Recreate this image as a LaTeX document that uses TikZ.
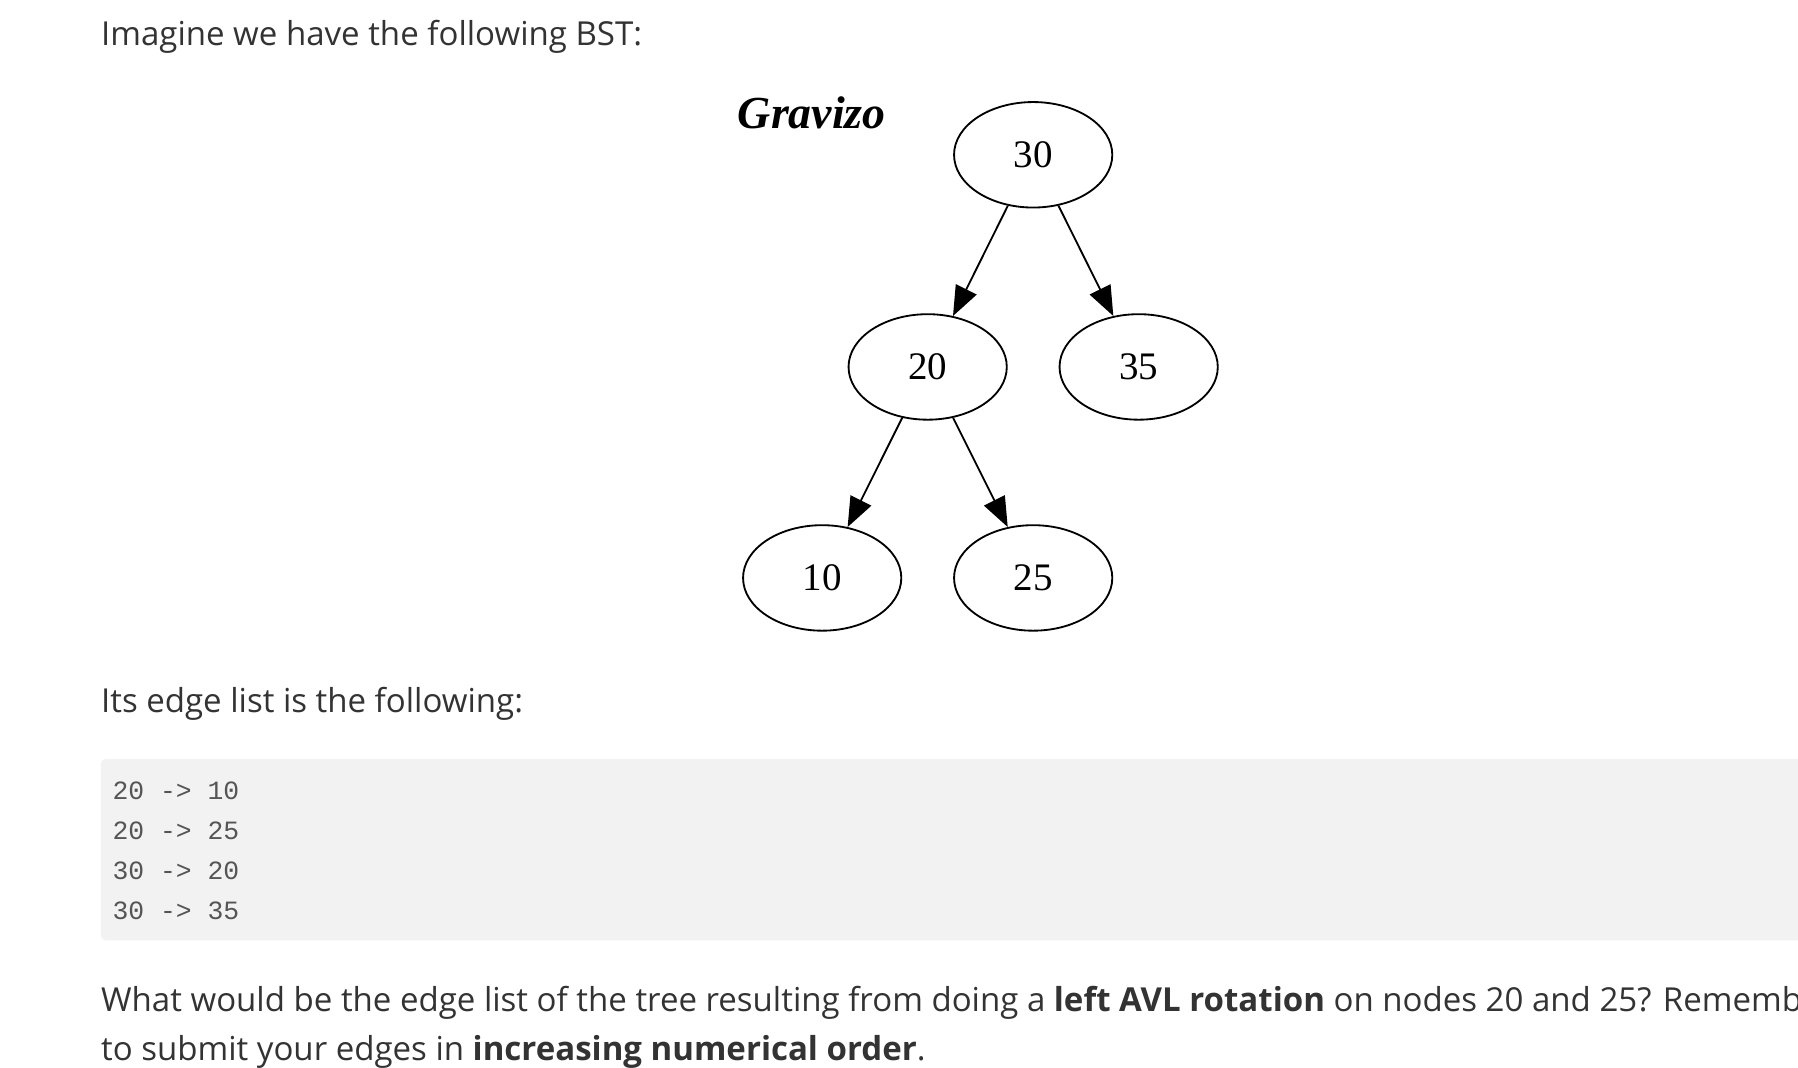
\documentclass[tikz,border=0pt]{standalone}
\usepackage{fontspec}
\setmainfont{Open Sans}
\newfontfamily\nodefont{Liberation Serif}
\newfontfamily\codefont{Liberation Mono}
\usetikzlibrary{arrows.meta,shapes.geometric}
\definecolor{txt}{HTML}{333333}
\definecolor{codebg}{HTML}{F2F2F2}
\definecolor{codetxt}{HTML}{555555}
\tikzset{
  bst/.style={ellipse,draw,line width=1.6pt,minimum width=138pt,minimum height=92pt,font=\nodefont\fontsize{34}{34}\selectfont,inner sep=0pt},
  edge/.style={line width=1.6pt,-{Triangle[length=26pt,width=20pt]}},
  para/.style={anchor=base west,inner sep=0pt,text=txt,font=\fontsize{28.8}{30}\selectfont},
  code/.style={anchor=base west,inner sep=0pt,text=codetxt,font=\codefont\fontsize{23}{24}\selectfont}
}
\begin{document}
\begin{tikzpicture}[x=1pt,y=-1pt]
\useasboundingbox[fill=white] (0,0) rectangle (1568,931);
\begin{scope}
\clip (0,0) rectangle (1568,931);
\node[para] (t1) at (88,40) {Imagine we have the following BST:};
\node[anchor=base,inner sep=0pt,font=\nodefont\bfseries\itshape\fontsize{40}{40}\selectfont] (logo) at (708,112) {Gravizo};
\node[bst] (n30) at (901,135) {30};
\node[bst] (n20) at (809,320) {20};
\node[bst] (n35) at (993,320) {35};
\node[bst] (n10) at (717,504) {10};
\node[bst] (n25) at (901,504) {25};
\draw[edge] (n30) -- (n20);
\draw[edge] (n30) -- (n35);
\draw[edge] (n20) -- (n10);
\draw[edge] (n20) -- (n25);
\node[para] (t2) at (88,621) {Its edge list is the following:};
\fill[codebg,rounded corners=4pt] (88,662) rectangle (1580,820);
\node[code] (c1) at (98,697) {20 -> 10};
\node[code] (c2) at (98,732) {20 -> 25};
\node[code] (c3) at (98,767) {30 -> 20};
\node[code] (c4) at (98,802) {30 -> 35};
\node[para] (t3) at (88,882) {What would be the edge list of the tree resulting from doing a \textbf{left AVL rotation} on nodes 20 and 25? Remember};
\node[para] (t4) at (88,925) {to submit your edges in \textbf{increasing numerical order}.};
\end{scope}
\end{tikzpicture}
\end{document}
